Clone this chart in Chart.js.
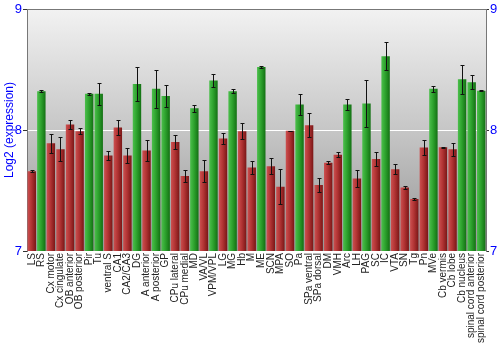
<!DOCTYPE html>
<html>
<head>
<meta charset="utf-8">
<script src="https://cdn.jsdelivr.net/npm/chart.js@4"></script>
<style>
  html, body { margin: 0; padding: 0; background: #fff; }
  #wrap { width: 500px; height: 350px; }
</style>
</head>
<body>
<div id="wrap"><canvas id="chart" width="500" height="350"></canvas></div>
<script>
const regions = [
    'LS', 'RS', 'Cx motor', 'Cx cingulate', 'OB anterior', 'OB posterior', 'Pir', 'Tu',
    'ventral S', 'CA1', 'CA2/CA3', 'DG', 'A anterior', 'A posterior', 'GP', 'CPu lateral',
    'CPu medial', 'MD', 'VA/VL', 'VPM/VPL', 'LG', 'MG', 'Hb', 'M', 'ME', 'SCN', 'MPA', 'SO',
    'Pa', 'SPa ventral', 'SPa dorsal', 'DM', 'VMH', 'Arc', 'LH', 'PAG', 'SC', 'IC', 'VTA',
    'SN', 'Tg', 'Pn', 'MVe', 'Cb vermis', 'Cb lobe', 'Cb nucleus', 'spinal cord anterior',
    'spinal cord posterior',
];

const expression = [
    7.66, 8.32, 7.89, 7.84, 8.045, 7.99, 8.30, 8.30,
    7.79, 8.02, 7.79, 8.38, 7.83, 8.34, 8.28, 7.90,
    7.62, 8.18, 7.66, 8.41, 7.93, 8.32, 7.99, 7.69, 8.52, 7.70, 7.53, 7.993,
    8.21, 8.04, 7.545, 7.73, 7.795, 8.21, 7.60, 8.22, 7.76, 8.61, 7.675,
    7.525, 7.43, 7.855, 8.34, 7.857, 7.84, 8.42, 8.395,
    8.325,
];

// half-width of each error bar
const spread = [
    0.01, 0.01, 0.08, 0.10, 0.035, 0.025, 0.008, 0.09,
    0.035, 0.065, 0.06, 0.14, 0.09, 0.155, 0.09, 0.055,
    0.052, 0.03, 0.09, 0.055, 0.043, 0.017, 0.067, 0.05, 0.01, 0.065, 0.145, 0,
    0.09, 0.10, 0.06, 0.01, 0.02, 0.045, 0.072, 0.195, 0.058, 0.117, 0.042,
    0.015, 0.008, 0.063, 0.023, 0.004, 0.052, 0.12, 0.058,
    0.003,
];

const yTicks = [7, 8, 9];
const HIGH_CUTOFF = 8.1;

const isHigh = (i) => expression[i] > HIGH_CUTOFF;

/** Grey plot-area backdrop plus the top frame line. */
const backdrop = {
    id: 'backdrop',
    beforeDraw(chart) {
        const { ctx, chartArea: a } = chart;
        const g = ctx.createLinearGradient(0, a.top, 0, a.bottom);
        g.addColorStop(0, '#f2f2f2');
        g.addColorStop(0.5, '#c6c6c6');
        g.addColorStop(1, '#969696');
        ctx.save();
        ctx.fillStyle = g;
        ctx.fillRect(a.left, a.top, a.right - a.left, a.bottom - a.top);
        ctx.restore();
    },
    afterDraw(chart) {
        const { ctx, chartArea: a } = chart;
        ctx.save();
        ctx.strokeStyle = '#777';
        ctx.lineWidth = 1;
        ctx.beginPath();
        ctx.moveTo(a.left, a.top + 0.5);
        ctx.lineTo(a.right, a.top + 0.5);
        ctx.stroke();
        ctx.restore();
    },
};

/** Shade each bar left-to-right so it reads as a cylinder. */
const barShading = {
    id: 'barShading',
    beforeDatasetsDraw(chart) {
        const { ctx } = chart;
        chart.getDatasetMeta(0).data.forEach((bar, i) => {
            const half = bar.width / 2;
            const g = ctx.createLinearGradient(bar.x - half, 0, bar.x + half, 0);
            if (isHigh(i)) {
                g.addColorStop(0, '#4cbf4c');
                g.addColorStop(0.45, '#2ea32e');
                g.addColorStop(1, '#137013');
            } else {
                g.addColorStop(0, '#cc5050');
                g.addColorStop(0.45, '#b23434');
                g.addColorStop(1, '#7a1616');
            }
            // options are per element because backgroundColor is scriptable
            bar.options.backgroundColor = g;
        });
    },
};

const errorBars = {
    id: 'errorBars',
    afterDatasetsDraw(chart) {
        const { ctx } = chart;
        const y = chart.scales.y;
        ctx.save();
        ctx.strokeStyle = '#111';
        ctx.lineWidth = 1;
        chart.getDatasetMeta(0).data.forEach((bar, i) => {
            const top = Math.round(y.getPixelForValue(expression[i] + spread[i])) + 0.5;
            const bottom = Math.round(y.getPixelForValue(expression[i] - spread[i])) + 0.5;
            const x = Math.round(bar.x) + 0.5;
            ctx.beginPath();
            ctx.moveTo(x, top);
            ctx.lineTo(x, bottom);
            ctx.moveTo(x - 2, top);
            ctx.lineTo(x + 2, top);
            ctx.moveTo(x - 2, bottom);
            ctx.lineTo(x + 2, bottom);
            ctx.stroke();
        });
        ctx.restore();
    },
};

const tickFont = { family: 'Liberation Sans, Arial, sans-serif', size: 13 };

new Chart(document.getElementById('chart'), {
    type: 'bar',
    data: {
        labels: regions,
        datasets: [{
            data: expression,
            backgroundColor: (c) => (isHigh(c.dataIndex) ? '#2ea32e' : '#b23434'),
            borderWidth: 0,
            barPercentage: 0.88,
            categoryPercentage: 1,
        }],
    },
    options: {
        responsive: false,
        animation: false,
        events: [],
        layout: { padding: { top: 9, left: 0, right: 0, bottom: 0 } },
        plugins: { legend: { display: false }, tooltip: { enabled: false } },
        scales: {
            x: {
                offset: true,
                afterFit: (scale) => { scale.height = 99; },
                grid: { display: false, drawTicks: false },
                border: { display: false },
                ticks: {
                    autoSkip: false,
                    maxRotation: 90,
                    minRotation: 90,
                    padding: 2,
                    color: '#222',
                    font: { family: 'Liberation Sans, Arial, sans-serif', size: 10 },
                },
            },
            y: {
                position: 'left',
                min: 7,
                max: 9,
                afterFit: (scale) => { scale.width = 27; },
                afterBuildTicks: (scale) => { scale.ticks = yTicks.map((value) => ({ value })); },
                border: { display: true, color: '#777' },
                grid: {
                    color: (c) => (c.tick && c.tick.value === 8 ? '#ffffff' : 'rgba(0,0,0,0)'),
                    tickColor: '#333',
                    tickLength: 4,
                },
                ticks: { color: '#0000ff', font: tickFont, padding: 1 },
                title: {
                    display: true,
                    text: 'Log2 (expression)',
                    color: '#0000ff',
                    font: { family: 'Liberation Sans, Arial, sans-serif', size: 12 },
                    padding: { top: 2, bottom: 0 },
                },
            },
            y2: {
                position: 'right',
                min: 7,
                max: 9,
                afterFit: (scale) => { scale.width = 14; },
                afterBuildTicks: (scale) => { scale.ticks = yTicks.map((value) => ({ value })); },
                border: { display: true, color: '#777' },
                grid: { drawOnChartArea: false, tickColor: '#333', tickLength: 3 },
                ticks: { color: '#0000ff', font: tickFont, padding: 1 },
            },
        },
    },
    plugins: [backdrop, barShading, errorBars],
});
</script>
</body>
</html>
